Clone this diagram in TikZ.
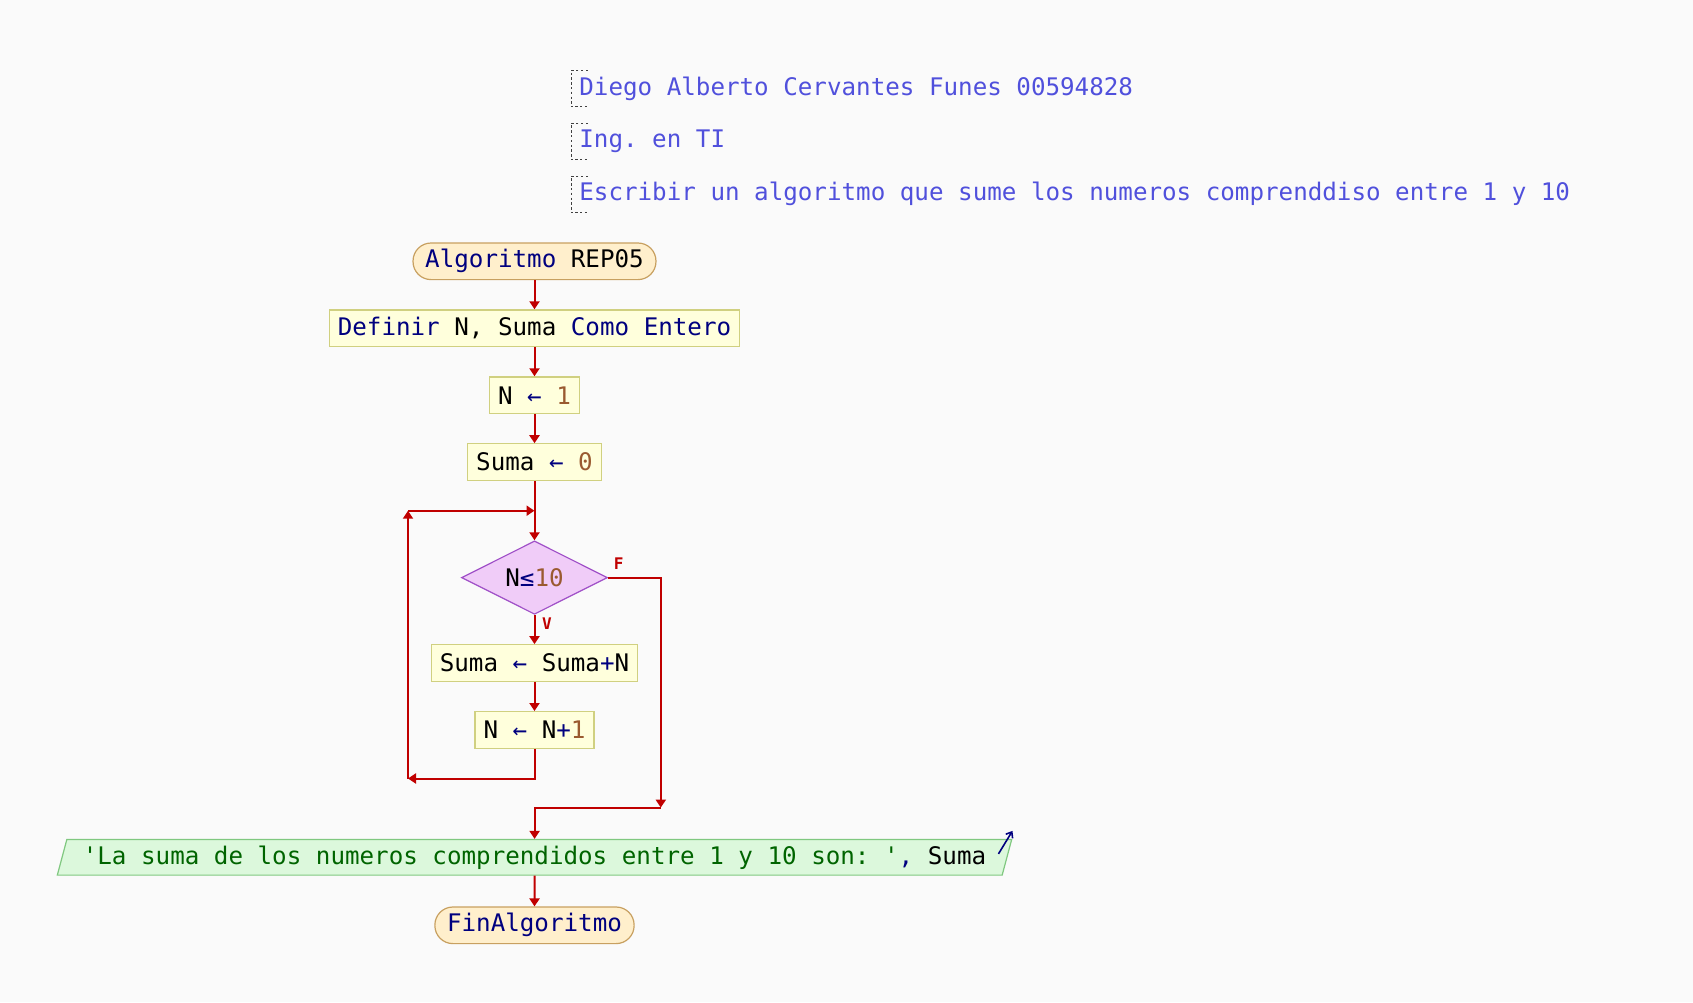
\documentclass[tikz,border=0pt]{standalone}
\usepackage{fontspec}
\setmonofont{DejaVu Sans Mono}
\usetikzlibrary{backgrounds,shapes.geometric,arrows.meta,calc}
\definecolor{bgc}{HTML}{FAFAFA}
\definecolor{kwc}{HTML}{00007F}
\definecolor{numc}{HTML}{9A5A30}
\definecolor{strc}{HTML}{006400}
\definecolor{cmtc}{HTML}{5050DC}
\definecolor{flowc}{HTML}{C00000}
\definecolor{procfill}{HTML}{FFFFDC}
\definecolor{procdraw}{HTML}{D0D080}
\definecolor{termfill}{HTML}{FFEFCC}
\definecolor{termdraw}{HTML}{C8A060}
\definecolor{condfill}{HTML}{F0CCF8}
\definecolor{conddraw}{HTML}{A050C8}
\definecolor{iofill}{HTML}{DCF8DC}
\definecolor{iodraw}{HTML}{80C880}
\newcommand{\kw}[1]{\textcolor{kwc}{#1}}
\newcommand{\numv}[1]{\textcolor{numc}{#1}}
\newcommand{\strg}[1]{\textcolor{strc}{#1}}

\begin{document}
\begin{tikzpicture}[x=0.5pt,y=-0.5pt,font=\ttfamily\fontsize{12.1}{14}\selectfont,
  background rectangle/.style={fill=bgc}, show background rectangle, inner frame sep=0pt,
  proc/.style={draw=procdraw,fill=procfill,line width=0.6pt,minimum height=18.3pt,inner xsep=4.3pt,inner ysep=0pt},
  term/.style={draw=termdraw,fill=termfill,line width=0.6pt,rounded corners=9pt,minimum height=18.3pt,inner xsep=6.1pt,inner ysep=0pt},
  cond/.style={diamond,aspect=2,draw=conddraw,fill=condfill,line width=0.6pt,minimum width=73pt,minimum height=36.7pt,inner sep=0pt},
  io/.style={trapezium,trapezium left angle=68,trapezium right angle=112,trapezium stretches=true,draw=iodraw,fill=iofill,line width=0.6pt,minimum height=17.8pt,inner xsep=8pt,inner ysep=0pt},
  cmt/.style={anchor=west,text=cmtc,minimum height=17.8pt,inner xsep=4pt,inner ysep=0pt},
  brk/.style={draw=black!75,line width=0.5pt,dash pattern=on 1.2pt off 1.2pt},
  flow/.style={draw=flowc,line width=1pt,-{Triangle[length=4pt,width=5pt]}},
  lbl/.style={text=flowc,font=\ttfamily\bfseries\fontsize{8}{9}\selectfont}]
  \useasboundingbox (0,0) rectangle (1693,1002);

  % comments
  \node[cmt] (c1) at (571,88.5) {Diego Alberto Cervantes Funes 00594828};
  \node[cmt] (c2) at (571,141.4) {Ing. en TI};
  \node[cmt] (c3) at (571,194.3) {Escribir un algoritmo que sume los numeros comprenddiso entre 1 y 10};
  \foreach \c in {c1,c2,c3}
    \draw[brk] ($(\c.north west)+(17,0)$) -- (\c.north west) -- (\c.south west) -- +(17,0);

  % flowchart
  \node[term] (start) at (534.5,261.3) {\kw{Algoritmo} REP05};
  \node[proc] (def) at (534.5,328.2) {\kw{Definir} N, Suma \kw{Como Entero}};
  \node[proc] (n1) at (534.5,395.2) {N \kw{←} \numv{1}};
  \node[proc] (s0) at (534.5,462.1) {Suma \kw{←} \numv{0}};
  \node[cond] (cond) at (534.5,577.6) {N\kw{≤}\numv{10}};
  \node[proc] (sum) at (534.5,663) {Suma \kw{←} Suma\kw{+}N};
  \node[proc] (nn1) at (534.5,729.9) {N \kw{←} N\kw{+}\numv{1}};
  \node[io] (out) at (534.5,857.3) {\strg{\textquotesingle La suma de los numeros comprendidos entre 1 y 10 son: \textquotesingle}\kw{,} Suma};
  \node[term] (fin) at (534.5,925.3) {\kw{FinAlgoritmo}};

  \coordinate (lpA) at (408,778.5);
  \coordinate (lpB) at (408,510.7);
  \coordinate (lpC) at (534.5,510.7);
  \coordinate (fR) at (660.8,807.6);

  \draw[flow] (start) -- (def);
  \draw[flow] (def) -- (n1);
  \draw[flow] (n1) -- (s0);
  \draw[flow] (s0) -- (cond);
  \draw[flow] (cond) -- node[lbl,right,pos=0.3] {V} (sum);
  \draw[flow] (sum) -- (nn1);
  \draw[flow] (nn1) |- (lpA);
  \draw[flow] (lpA) -- (lpB);
  \draw[flow] (lpB) -- (lpC);
  \draw[flow] (cond) -| node[lbl,above,pos=0.1] {F} (fR);
  \draw[flow] (fR) -| (out);
  \draw[flow] (out) -- (fin);

  \draw[kwc,line width=0.8pt,-{Straight Barb[length=2.5pt,width=4pt]}] ($(out.top right corner)+(-14,15)$) -- ($(out.top right corner)+(0,-8)$);
\end{tikzpicture}
\end{document}
